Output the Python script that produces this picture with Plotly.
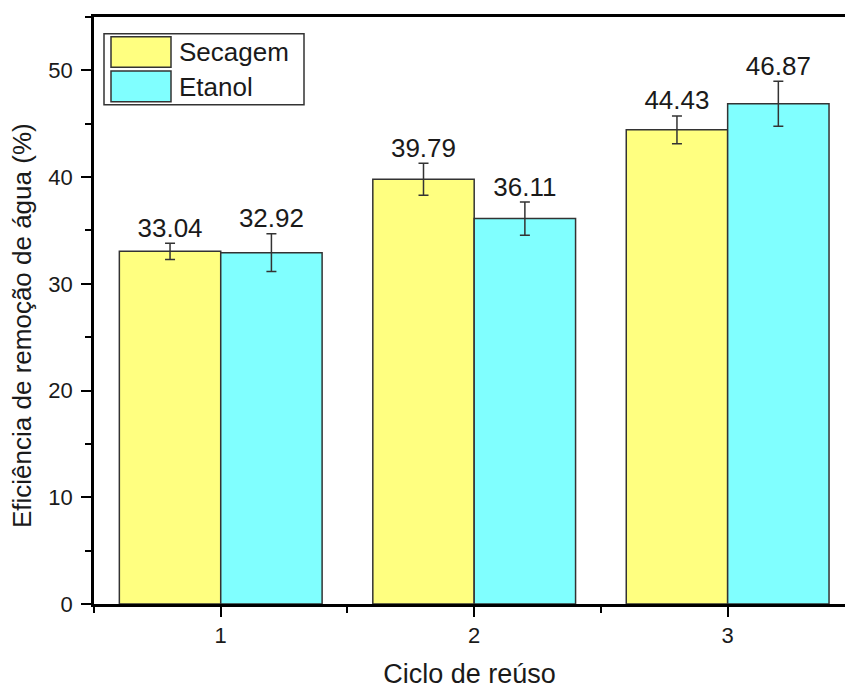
import plotly.graph_objects as go

# ---- data ----
cycles = [1, 2, 3]
secagem = [33.04, 39.79, 44.43]
secagem_err = [0.75, 1.5, 1.3]
etanol = [32.92, 36.11, 46.87]
etanol_err = [1.77, 1.55, 2.1]
series_names = ["Secagem", "Etanol"]
y_ticks = [0, 10, 20, 30, 40, 50]

# ---- style ----
W, H = 845, 689
L, R, T, B = 94, 0, 17, 85
YELLOW = "#FFFF80"
CYAN = "#80FFFF"
EDGE = "#333333"
FONT = "Liberation Sans, Arial, sans-serif"
TXT = "#1a1a1a"
BAR_OFF = 0.2  # half of the 0.4-wide bar within a group

fig = go.Figure()
for name, vals, errs, col in [
    (series_names[0], secagem, secagem_err, YELLOW),
    (series_names[1], etanol, etanol_err, CYAN),
]:
    fig.add_trace(go.Bar(
        x=cycles, y=vals, name=name,
        marker=dict(color=col, line=dict(color=EDGE, width=1.5)),
        error_y=dict(type="data", array=errs, visible=True,
                     color=EDGE, thickness=1.5, width=5),
        showlegend=False,
    ))

# value labels above the error bars
for vals, errs, off in [(secagem, secagem_err, -BAR_OFF), (etanol, etanol_err, BAR_OFF)]:
    fig.add_trace(go.Scatter(
        x=[c + off for c in cycles],
        y=[v + e for v, e in zip(vals, errs)],
        mode="text",
        text=[f"{v:.2f}" for v in vals],
        textposition="top center",
        textfont=dict(family=FONT, size=26, color=TXT),
        showlegend=False, hoverinfo="skip",
    ))

pw, ph = W - L - R, H - T - B
def px(x):
    return (x - L) / pw
def py(y):
    return (H - B - y) / ph

shapes = [
    dict(type="rect", xref="paper", yref="paper",
         x0=px(104), x1=px(304), y0=py(104.7), y1=py(33.7),
         line=dict(color=EDGE, width=1.5), fillcolor="white"),
    dict(type="rect", xref="paper", yref="paper",
         x0=px(111), x1=px(171), y0=py(67.3), y1=py(36.7),
         line=dict(color=EDGE, width=1.5), fillcolor=YELLOW),
    dict(type="rect", xref="paper", yref="paper",
         x0=px(111), x1=px(171), y0=py(101.7), y1=py(71),
         line=dict(color=EDGE, width=1.5), fillcolor=CYAN),
]
annotations = [
    dict(xref="paper", yref="paper", x=px(177), y=py(52), text=series_names[0],
         showarrow=False, xanchor="left", yanchor="middle",
         font=dict(family=FONT, size=26, color=TXT)),
    dict(xref="paper", yref="paper", x=px(177), y=py(86.5), text=series_names[1],
         showarrow=False, xanchor="left", yanchor="middle",
         font=dict(family=FONT, size=26, color=TXT)),
    dict(xref="paper", yref="paper", x=px(22), y=py(326), text="Eficiência de remoção de água (%)",
         showarrow=False, xanchor="center", yanchor="middle", textangle=-90,
         font=dict(family=FONT, size=26, color=TXT)),
]

fig.update_layout(
    width=W, height=H,
    margin=dict(l=L, r=R, t=T, b=B),
    paper_bgcolor="white", plot_bgcolor="white",
    barmode="group", bargap=0.2, bargroupgap=0,
    shapes=shapes, annotations=annotations,
    font=dict(family=FONT, color=TXT),
    xaxis=dict(
        range=[0.5, 0.5 + 2.963], tickvals=cycles, ticktext=[str(c) for c in cycles],
        showgrid=False, zeroline=False,
        showline=True, linecolor="black", linewidth=2.5, mirror=True,
        ticks="outside", ticklen=10, tickwidth=2, tickcolor="black",
        tickfont=dict(family=FONT, size=22, color=TXT),
        minor=dict(tick0=0.5, dtick=1, ticks="outside", ticklen=6, tickwidth=2, tickcolor="black"),
        title=dict(text="Ciclo de reúso", font=dict(family=FONT, size=27, color=TXT), standoff=22),
    ),
    yaxis=dict(
        range=[0, 55], tickvals=y_ticks,
        showgrid=False, zeroline=False,
        showline=True, linecolor="black", linewidth=2.5, mirror=False,
        ticks="outside", ticklen=10, tickwidth=2, tickcolor="black",
        tickfont=dict(family=FONT, size=22, color=TXT),
        ticklabelstandoff=4,
        minor=dict(dtick=5, ticks="outside", ticklen=6, tickwidth=2, tickcolor="black"),
    ),
)

fig.write_html("out.html", config={"displayModeBar": False},
               post_script="document.body.style.margin='0';document.body.style.overflow='hidden';")
